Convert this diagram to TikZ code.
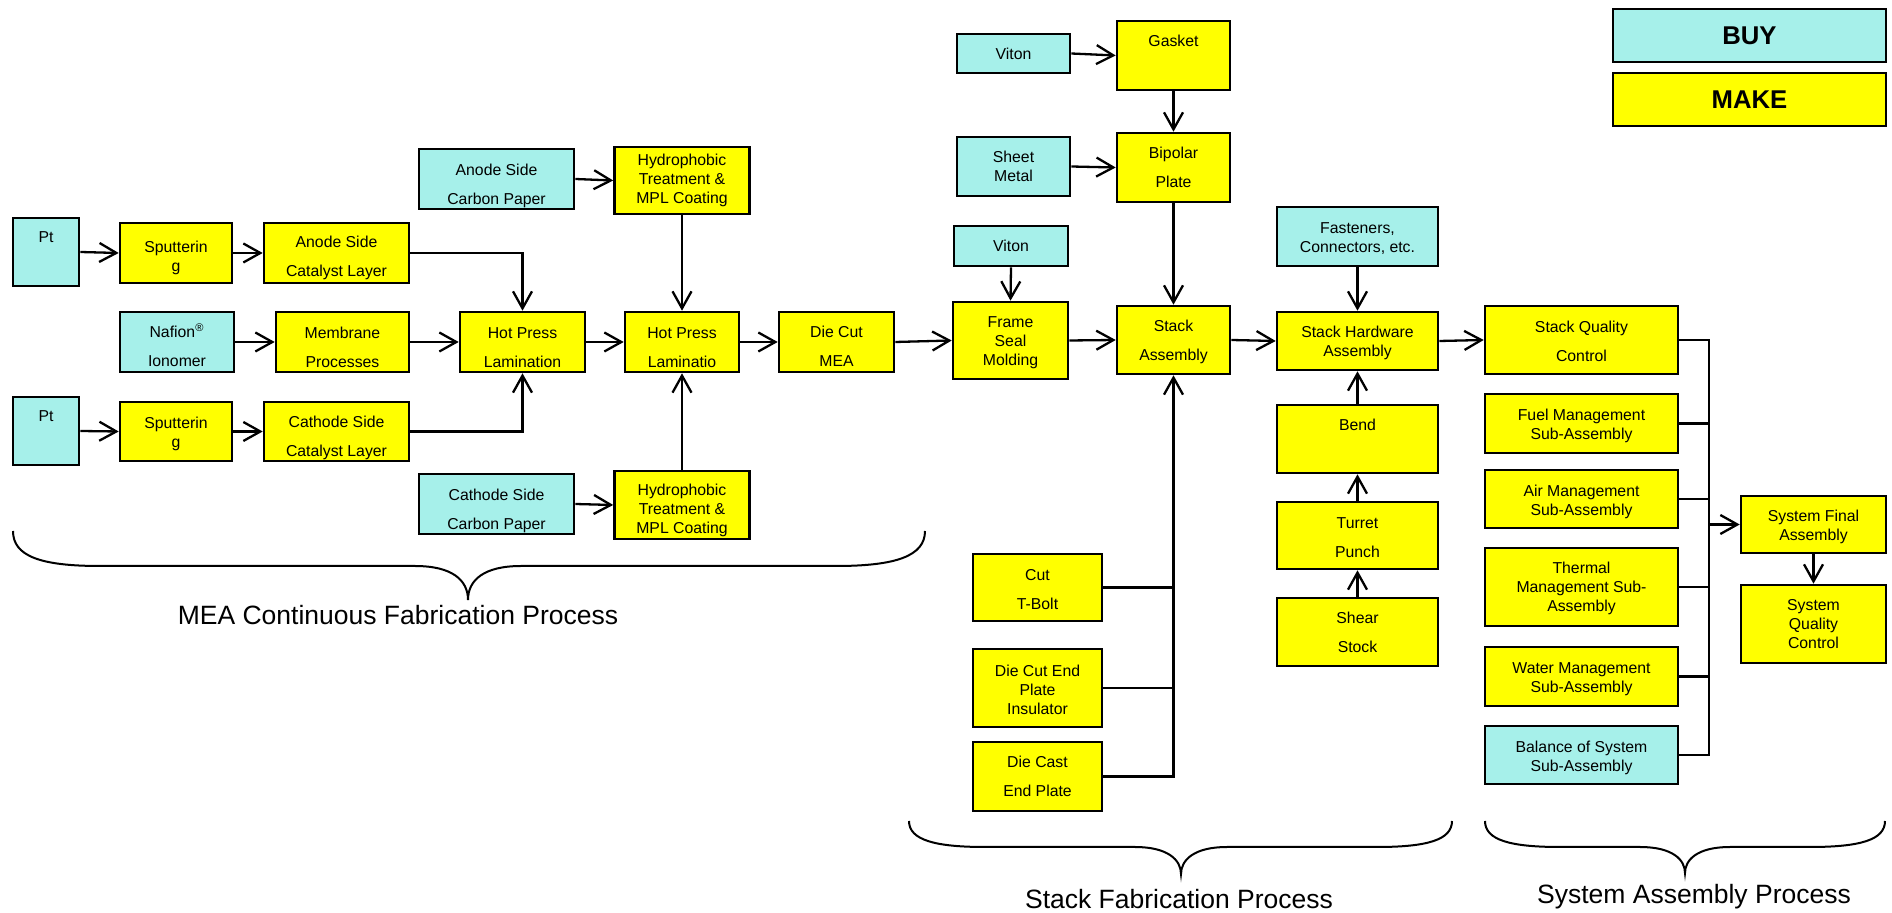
\documentclass[tikz,border=0pt]{standalone}
\usepackage{fontspec}
\setmainfont{Liberation Sans}
\usepackage{tikz}
\usetikzlibrary{arrows.meta}
% strut on a first line, pushes the text of a box down
\newcommand{\lift}[1][11pt]{\rule{0pt}{#1}}

\begin{document}
\begin{tikzpicture}[x=0.5pt,y=0.5pt,yscale=-1,xscale=1,
  box/.style={draw=black, line width=1.3pt, inner sep=0pt, align=center, font=\fontsize{7.9}{9.5}\selectfont},
  buy/.style={box, fill={rgb, 255:red, 166; green, 240; blue, 234}},
  make/.style={box, fill={rgb, 255:red, 255; green, 255; blue, 0}},
  loose/.style={font=\fontsize{7.9}{14.5}\selectfont},
  sz/.style 2 args={minimum width=#1*0.5pt, minimum height=#2*0.5pt},
  legend/.style={font=\fontsize{12.85}{15}\selectfont\bfseries},
  link/.style={line width=1.15pt},
  arr/.style={link, -{Straight Barb[length=8.5pt,width=9.5pt]}},
  brace/.style={line width=1pt},
  caption/.style={font=\fontsize{13.25}{15}\selectfont}]
%set diagram size to the 1892 x 913 frame
\useasboundingbox (0,0) rectangle (1892,913);

%Legend
\node[buy, legend, sz={273}{53}] (legbuy) at (1749.5,35.5) {BUY};
\node[make, legend, sz={273}{53}] (legmake) at (1749.5,99.5) {MAKE};

%MEA fabrication boxes
\node[buy, loose, sz={66}{68}] (pta) at (46,252) {Pt\\\mbox{}};
\node[make, sz={112}{60}] (sputa) at (176,253) {\lift Sputterin\\g};
\node[make, loose, sz={145}{60}] (anodecat) at (336.5,253) {\lift Anode Side\\Catalyst Layer};
\node[buy, loose, sz={155}{60}] (anodepaper) at (496.5,179) {\lift[12.5pt]Anode Side\\Carbon Paper};
\node[make, sz={135}{67}] (hydroa) at (682,180.5) {Hydrophobic\\Treatment \&\\MPL Coating};
\node[buy, loose, sz={114}{60}] (nafion) at (177,342) {\lift[10pt]Nafion\textsuperscript{\textregistered}\\Ionomer};
\node[make, loose, sz={133}{60}] (membrane) at (342.5,342) {\lift Membrane\\Processes};
\node[make, loose, sz={125}{60}] (pressa) at (522.5,342) {\lift Hot Press\\Lamination};
\node[make, loose, sz={114}{60}] (pressb) at (682,342) {\lift Hot Press\\Laminatio};
\node[make, loose, sz={115}{60}] (diecut) at (836.5,342) {\lift[10.5pt]Die Cut\\MEA};
\node[buy, loose, sz={66}{68}] (ptb) at (46,431) {Pt\\\mbox{}};
\node[make, sz={112}{59}] (sputb) at (176,431.5) {\lift[8.5pt]Sputterin\\g};
\node[make, loose, sz={145}{59}] (cathcat) at (336.5,431.5) {\lift[12.5pt]Cathode Side\\Catalyst Layer};
\node[buy, loose, sz={155}{60}] (cathpaper) at (496.5,504) {\lift[12.5pt]Cathode Side\\Carbon Paper};
\node[make, sz={135}{68}] (hydrob) at (682,505) {\lift Hydrophobic\\Treatment \&\\MPL Coating};

%Stack fabrication boxes
\node[buy, sz={113}{39}] (vitona) at (1013.5,53.5) {Viton};
\node[make, loose, sz={113}{69}] (gasket) at (1173.5,55.5) {Gasket\\\mbox{}};
\node[buy, sz={113}{59}] (sheet) at (1013.5,166.5) {Sheet\\Metal};
\node[make, loose, sz={113}{69}] (bipolar) at (1173.5,167.5) {Bipolar\\Plate};
\node[buy, sz={114}{40}] (vitonb) at (1011,246) {Viton};
\node[make, sz={115}{77}] (frame) at (1010.5,340.5) {\lift[8pt]Frame\\Seal\\Molding};
\node[make, loose, sz={113}{68}] (stack) at (1173.5,340) {\lift[8pt]Stack\\Assembly};
\node[buy, sz={161}{59}] (fasten) at (1357.5,236.5) {\lift[7.5pt]Fasteners,\\Connectors, etc.};
\node[make, sz={161}{58}] (stackhw) at (1357.5,341) {\lift[8pt]Stack Hardware\\Assembly};
\node[make, loose, sz={161}{68}] (bend) at (1357.5,439) {Bend\\\mbox{}};
\node[make, loose, sz={161}{67}] (turret) at (1357.5,535.5) {\lift[8pt]Turret\\Punch};
\node[make, loose, sz={161}{68}] (shear) at (1357.5,632) {Shear\\Stock};
\node[make, loose, sz={129}{67}] (tbolt) at (1037.5,587.5) {\lift[7.5pt]Cut\\T-Bolt};
\node[make, sz={129}{78}] (insul) at (1037.5,688) {\lift[7.5pt]Die Cut End\\Plate\\Insulator};
\node[make, loose, sz={129}{69}] (endplate) at (1037.5,776.5) {Die Cast\\End Plate};

%System assembly boxes
\node[make, loose, sz={193}{68}] (sqc) at (1581.5,340) {\lift[7.5pt]Stack Quality\\Control};
\node[make, sz={193}{59}] (fuel) at (1581.5,423.5) {\lift[8.5pt]Fuel Management\\Sub-Assembly};
\node[make, sz={193}{58}] (air) at (1581.5,499) {\lift[8.5pt]Air Management\\Sub-Assembly};
\node[make, sz={193}{78}] (thermal) at (1581.5,587) {\lift[7.5pt]Thermal\\Management Sub-\\Assembly};
\node[make, sz={193}{59}] (water) at (1581.5,676.5) {\lift[8.5pt]Water Management\\Sub-Assembly};
\node[buy, sz={193}{58}] (balance) at (1581.5,755) {\lift[8.5pt]Balance of System\\Sub-Assembly};
\node[make, sz={145}{57}] (sysfinal) at (1813.5,524.5) {\lift[8.5pt]System Final\\Assembly};
\node[make, sz={145}{78}] (sysqc) at (1813.5,624) {System\\Quality\\Control};

%MEA arrows
\draw[arr] (pta.east) -- (sputa.west);
\draw[arr] (sputa.east) -- (anodecat.west);
\draw[arr] (anodecat.east) -| (pressa.north);
\draw[arr] (nafion.east) -- (membrane.west);
\draw[arr] (membrane.east) -- (pressa.west);
\draw[arr] (ptb.east) -- (sputb.west);
\draw[arr] (sputb.east) -- (cathcat.west);
\draw[arr] (cathcat.east) -| (pressa.south);
\draw[arr] (anodepaper.east) -- (hydroa.west);
\draw[arr] (cathpaper.east) -- (hydrob.west);
\draw[arr] (hydroa.south) -- (pressb.north);
\draw[arr] (hydrob.north) -- (pressb.south);
\draw[arr] (pressa.east) -- (pressb.west);
\draw[arr] (pressb.east) -- (diecut.west);
\draw[arr] (diecut.east) -- (frame.west);

%Stack arrows
\draw[arr] (vitona.east) -- (gasket.west);
\draw[arr] (gasket.south) -- (bipolar.north);
\draw[arr] (sheet.east) -- (bipolar.west);
\draw[arr] (bipolar.south) -- (stack.north);
\draw[arr] (vitonb.south) -- (frame.north);
\draw[arr] (frame.east) -- (stack.west);
\draw[arr] (stack.east) -- (stackhw.west);
\draw[arr] (fasten.south) -- (stackhw.north);
\draw[arr] (bend.north) -- (stackhw.south);
\draw[arr] (turret.north) -- (bend.south);
\draw[arr] (shear.north) -- (turret.south);
\draw[arr] (endplate.east) -| (stack.south);
\draw[link] (tbolt.east) -- (tbolt.east -| stack.south);
\draw[link] (insul.east) -- (insul.east -| stack.south);

%System arrows
\draw[arr] (stackhw.east) -- (sqc.west);
\coordinate (sysbus) at (1709,524.5);
\draw[link] (sqc.east) -| (sysbus) |- (balance.east);
\draw[link] (fuel.east) -- (fuel.east -| sysbus);
\draw[link] (air.east) -- (air.east -| sysbus);
\draw[link] (thermal.east) -- (thermal.east -| sysbus);
\draw[link] (water.east) -- (water.east -| sysbus);
\draw[arr] (sysbus) -- (sysfinal.west);
\draw[arr] (sysfinal.south) -- (sysqc.north);

%Braces
\draw[brace] (13,531) .. controls (13,556) and (40,566) .. (100,566) -- (415,566) .. controls (452,566) and (468,580) .. (468,600) .. controls (468,580) and (484,566) .. (521,566) -- (836,566) .. controls (896,566) and (925,556) .. (925,531);
\node[caption] (meacap) at (398,615) {MEA Continuous Fabrication Process};
\draw[brace] (909,821) .. controls (909,840) and (935,847) .. (985,847) -- (1135,847) .. controls (1168,847) and (1181,860) .. (1181,874) .. controls (1181,860) and (1194,847) .. (1227,847) -- (1377,847) .. controls (1427,847) and (1452,840) .. (1452,821);
\node[caption] (stackcap) at (1179,899) {Stack Fabrication Process};
\draw[brace] (1485,821) .. controls (1485,840) and (1510,847) .. (1560,847) -- (1640,847) .. controls (1673,847) and (1685,860) .. (1685,873) .. controls (1685,860) and (1697,847) .. (1730,847) -- (1810,847) .. controls (1860,847) and (1885,840) .. (1885,821);
\node[caption] (syscap) at (1694,897) {System Assembly Process};
\end{tikzpicture}
\end{document}
